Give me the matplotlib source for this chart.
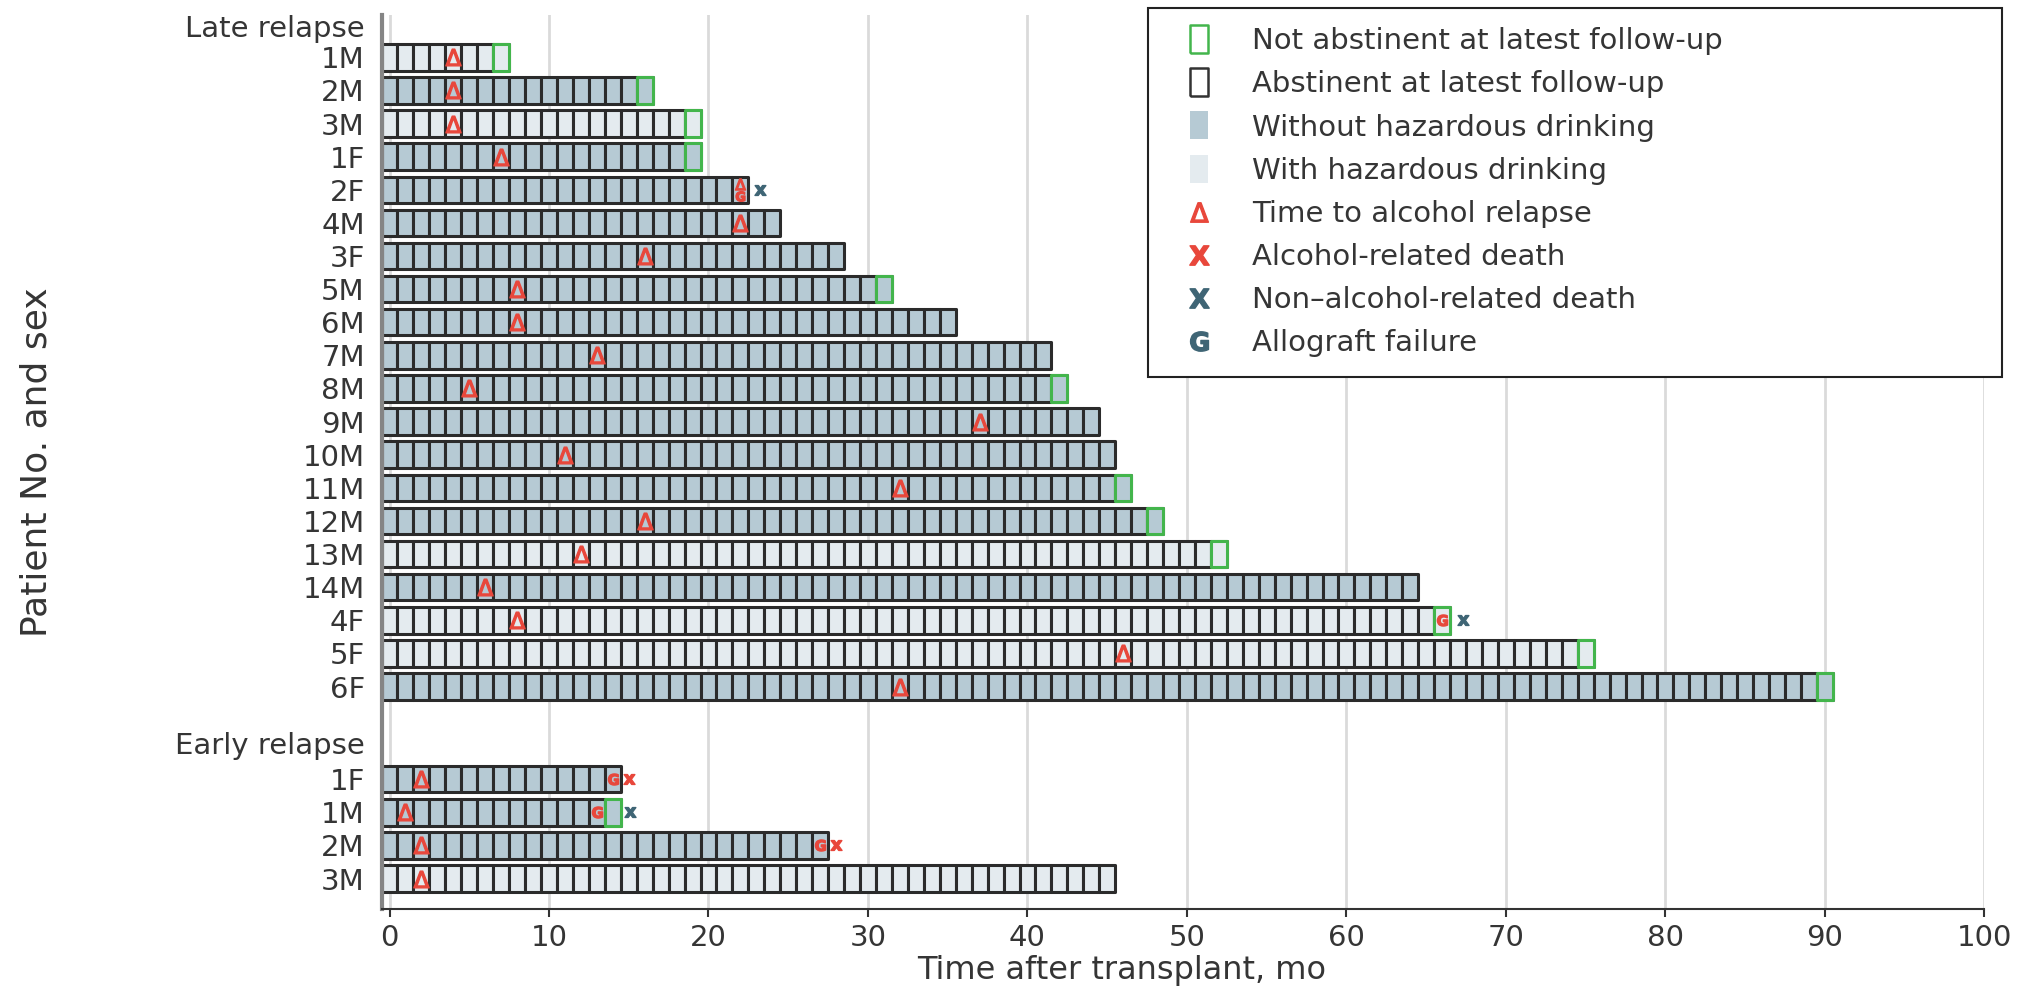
import numpy as np
import matplotlib.pyplot as plt
from matplotlib.lines import Line2D

plt.rcParams['font.family'] = ['DejaVu Sans']

# late relapse patients: last month of follow-up, month of relapse
late_ids = ['1M', '2M', '3M', '1F', '2F', '4M', '3F', '5M', '6M', '7M',
            '8M', '9M', '10M', '11M', '12M', '13M', '14M', '4F', '5F', '6F']
late_last = [7, 16, 19, 19, 22, 24, 28, 31, 35, 41,
             42, 44, 45, 46, 48, 52, 64, 66, 75, 90]
late_relapse = [4, 4, 4, 7, 22, 22, 16, 8, 8, 13,
                5, 37, 11, 32, 16, 12, 6, 8, 46, 32]
late_hazardous = [True, False, True, False, False, False, False, False, False, False,
                  False, False, False, False, False, True, False, True, True, False]
late_drinking = [True, True, True, True, False, False, False, True, False, False,
                 True, False, False, True, True, True, False, True, True, True]

# early relapse patients
early_ids = ['1F', '1M', '2M', '3M']
early_last = [14, 14, 27, 45]
early_relapse = [2, 1, 2, 2]
early_hazardous = [False, False, False, True]
early_drinking = [False, True, False, False]

# (group, patient, month)
graft_failures = [('late', '2F', 22), ('late', '4F', 66),
                  ('early', '1F', 14), ('early', '1M', 13), ('early', '2M', 27)]
# (group, patient, month, alcohol related)
deaths = [('late', '2F', 23.2, False), ('late', '4F', 67.3, False),
          ('early', '1F', 15.0, True), ('early', '1M', 15.1, False),
          ('early', '2M', 28.0, True)]

xticks = np.arange(0, 101, 10)

DARK = '#b6cad4'
LIGHT = '#e4ebef'
EDGE = '#2b2b2b'
GREEN = '#43b54c'
RED = '#e8473b'
TEAL = '#3f6575'
TEXT = '#353535'

fig = plt.figure(figsize=(20.37, 9.96), dpi=100)
ax = fig.add_axes([0.1873, 0.0873, 0.7869, 0.8977])

late_y = np.arange(len(late_ids))
early_y = len(late_ids) + 1.8 + np.arange(len(early_ids))
rows = {('late', p): y for p, y in zip(late_ids, late_y)}
rows.update({('early', p): y for p, y in zip(early_ids, early_y)})
graft_rows = {(g, p): m for g, p, m in graft_failures}


def draw_group(group, ids, last, relapse, hazardous, drinking):
    for pid, n, r, haz, drink in zip(ids, last, relapse, hazardous, drinking):
        y = rows[(group, pid)]
        fill = LIGHT if haz else DARK
        cells = [(m - 0.5, 1) for m in range(n + 1)]
        ax.broken_barh(cells, (y - 0.4, 0.8), facecolors=fill,
                       edgecolors=EDGE, linewidth=2.2, zorder=2)
        if drink:
            ax.broken_barh([(n - 0.5, 1)], (y - 0.4, 0.8), facecolors=fill,
                           edgecolors=GREEN, linewidth=2.2, zorder=2.5)
        g = graft_rows.get((group, pid))
        if g is not None and g == r:
            # relapse and graft failure in the same month: stack them
            ax.plot([r], [y - 0.17], ls='none', marker=r'$\Delta$', ms=8,
                    color=RED, zorder=4)
            ax.plot([g], [y + 0.2], ls='none', marker=r'$\mathbf{G}$', ms=7,
                    color=RED, zorder=4)
        else:
            ax.plot([r], [y], ls='none', marker=r'$\Delta$', ms=12,
                    color=RED, zorder=4)
            if g is not None:
                ax.plot([g], [y], ls='none', marker=r'$\mathbf{G}$', ms=8,
                        color=RED, zorder=4)


draw_group('late', late_ids, late_last, late_relapse, late_hazardous, late_drinking)
draw_group('early', early_ids, early_last, early_relapse, early_hazardous, early_drinking)

for group, pid, month, alcohol in deaths:
    ax.plot([month], [rows[(group, pid)]], ls='none', marker=r'$\mathbf{x}$',
            ms=8, color=RED if alcohol else TEAL, zorder=4)

# axes styling
ax.set_xlim(-0.5, 100)
ax.set_ylim(len(late_ids) + len(early_ids) + 1.72, -1.28)
ax.set_xticks(xticks)
ax.set_yticks(list(late_y) + [-0.95] + list(early_y) + [len(late_ids) + 0.7])
ax.set_yticklabels(late_ids + ['Late relapse'] + early_ids + ['Early relapse'])
ax.tick_params(axis='y', length=0, pad=12, labelsize=21, labelcolor=TEXT)
ax.tick_params(axis='x', length=6, width=1.5, color='#333333', pad=5,
               labelsize=21, labelcolor=TEXT)
ax.xaxis.grid(True, color='#dadada', linewidth=2)
ax.set_axisbelow(True)
for side in ['top', 'right']:
    ax.spines[side].set_visible(False)
ax.spines['left'].set_color('#858585')
ax.spines['left'].set_linewidth(3)
ax.spines['bottom'].set_color('#333333')
ax.spines['bottom'].set_linewidth(1.5)

ax.set_xlabel('Time after transplant, mo', fontsize=23, color=TEXT, va='center')
ax.xaxis.set_label_coords(0.462, -0.069)
ax.set_ylabel('Patient No. and sex', fontsize=26, color=TEXT, va='center')
ax.yaxis.set_label_coords(-0.2155, 0.5)

# legend
rect = [(-0.33, -0.5), (0.33, -0.5), (0.33, 0.5), (-0.33, 0.5), (-0.33, -0.5)]
handles = [
    Line2D([], [], ls='none', marker=rect, ms=20, mfc='white', mec=GREEN, mew=1.8),
    Line2D([], [], ls='none', marker=rect, ms=20, mfc='white', mec='#333333', mew=1.8),
    Line2D([], [], ls='none', marker=rect, ms=20, mfc=DARK, mec=DARK, mew=0),
    Line2D([], [], ls='none', marker=rect, ms=20, mfc=LIGHT, mec=LIGHT, mew=0),
    Line2D([], [], ls='none', marker=r'$\Delta$', ms=14, color=RED),
    Line2D([], [], ls='none', marker=r'$\mathbf{X}$', ms=14, color=RED),
    Line2D([], [], ls='none', marker=r'$\mathbf{X}$', ms=14, color=TEAL),
    Line2D([], [], ls='none', marker=r'$\mathbf{G}$', ms=14, color=TEAL),
]
labels = ['Not abstinent at latest follow-up', 'Abstinent at latest follow-up',
          'Without hazardous drinking', 'With hazardous drinking',
          'Time to alcohol relapse', 'Alcohol-related death',
          'Non–alcohol-related death', 'Allograft failure']
leg = fig.legend(handles=handles, labels=labels, loc='upper left',
                 bbox_to_anchor=(0.5636, 0.6255, 0.4193, 0.3665), mode='expand',
                 fontsize=21, frameon=True, fancybox=False, edgecolor='#222222',
                 framealpha=1, borderpad=0.66, labelspacing=0.52, handlelength=2.2,
                 handletextpad=0.7, numpoints=1, borderaxespad=0)
leg.get_frame().set_linewidth(1.5)
for t in leg.get_texts():
    t.set_color(TEXT)

fig.savefig('out.png', dpi=100, facecolor='white')
